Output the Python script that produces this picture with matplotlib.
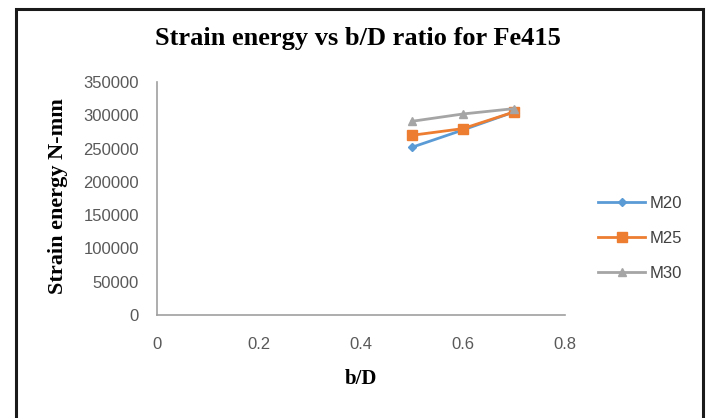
import matplotlib
matplotlib.use('Agg')
import matplotlib.pyplot as plt
from matplotlib.patches import Rectangle

# b/D ratios and strain energy (N-mm) for each concrete grade, Fe415 steel
bd_ratio = [0.5, 0.6, 0.7]
m20 = [252000, 278000, 305000]
m25 = [270000, 280000, 305000]
m30 = [291000, 302000, 310000]

series = [
    ('M20', m20, '#5B9BD5', 'D', 4),
    ('M25', m25, '#ED7D31', 's', 7),
    ('M30', m30, '#A5A5A5', '^', 6),
]

x_ticks = [0, 0.2, 0.4, 0.6, 0.8]
y_ticks = [0, 50000, 100000, 150000, 200000, 250000, 300000, 350000]

fig = plt.figure(figsize=(7.09, 4.18), dpi=100)
ax = fig.add_axes([0.2214, 0.2464, 0.5755, 0.5574])

for name, vals, color, marker, ms in series:
    ax.plot(bd_ratio, vals, color=color, marker=marker, markersize=ms,
            linewidth=2, label=name)

ax.set_xlim(0, 0.8)
ax.set_ylim(0, 350000)
ax.set_xticks(x_ticks)
ax.set_xticklabels(['0', '0.2', '0.4', '0.6', '0.8'])
ax.set_yticks(y_ticks)
ax.set_yticklabels([str(v) for v in y_ticks])
ax.tick_params(length=0, labelsize=12, labelcolor='#595959')
ax.tick_params(axis='x', pad=16)
ax.tick_params(axis='y', pad=13)
for lbl in ax.get_xticklabels() + ax.get_yticklabels():
    lbl.set_fontfamily('Liberation Sans')

for side in ['top', 'right']:
    ax.spines[side].set_visible(False)
for side in ['left', 'bottom']:
    ax.spines[side].set_color('#A0A0A0')
    ax.spines[side].set_linewidth(1.2)

fig.text(0.505, 0.908, 'Strain energy vs b/D ratio for Fe415', ha='center',
         va='center', family='Liberation Serif', weight='bold', fontsize=19)
ax.set_xlabel('b/D', family='Liberation Serif', weight='bold', fontsize=15,
              labelpad=12)
fig.text(0.082, 0.530, 'Strain energy N-mm', rotation=90, ha='center',
         va='center', family='Liberation Serif', weight='bold', fontsize=16)

leg = ax.legend(loc='center left', bbox_to_anchor=(1.045, 0.33), frameon=False,
                handlelength=2.8, handletextpad=0.3, labelspacing=1.2,
                prop={'family': 'Liberation Sans', 'size': 12})
for t in leg.get_texts():
    t.set_color('#404040')

# outer frame
fig.patches.append(Rectangle((16 / 709, -0.01), 687 / 709, 1 - 9 / 418 + 0.01,
                             transform=fig.transFigure, fill=False,
                             edgecolor='#1a1a1a', linewidth=2.2))

fig.savefig('out.png', dpi=100)
